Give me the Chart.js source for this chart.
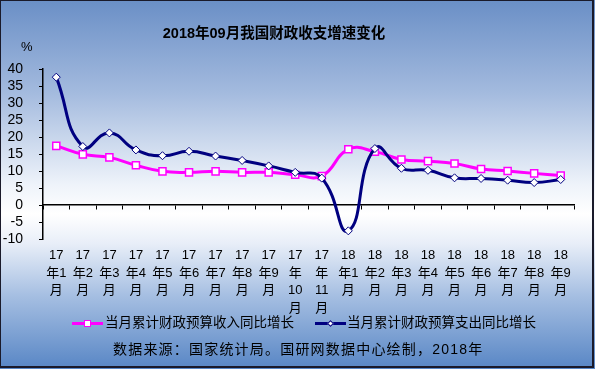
<!DOCTYPE html>
<html>
<head>
<meta charset="utf-8">
<script src="https://cdn.jsdelivr.net/npm/chart.js@4.4.1/dist/chart.umd.min.js"></script>
<style>
  html, body { margin: 0; padding: 0; }
  #wrap {
    position: relative;
    width: 595px; height: 369px; overflow: hidden;
    background: linear-gradient(to bottom, #6a8fc6 0%, #a3bade 25%, #eef3fa 50%, #ffffff 58%, #e8eef8 66%, #a6bfe2 80%, #5886c5 100%);
    font-family: "Liberation Sans", "Noto Sans CJK SC", sans-serif;
    color: #000;
  }
  #frame {
    position: absolute; left: 0; top: 0; width: 591px; height: 365px;
    border: 1px solid #1a1a2a; border-right-width: 2px; border-bottom-width: 2px;
    pointer-events: none;
  }
  canvas { position: absolute; left: 0; top: 0; }
  .txt { position: absolute; white-space: nowrap; }
  #title { left: 0; width: 548px; top: 21px; text-align: center; font-size: 14.5px; font-weight: bold; }
  #pct { left: 21px; top: 39px; font-size: 13px; }
  .leg { position: absolute; top: 315px; height: 16px; font-size: 13.5px; line-height: 16px; }
  .leg .ln { position: absolute; top: 7px; width: 31px; height: 3px; }
  .leg .mk { position: absolute; background: #fff; box-sizing: border-box; }
  .leg .lab { position: absolute; top: 0; white-space: nowrap; }
  #src { left: 113px; top: 338px; font-size: 14px; letter-spacing: 1.2px; }
</style>
</head>
<body>
<div id="wrap">
  <canvas id="graficoCanvas" width="595" height="369"></canvas>
  <div class="txt" id="title">2018年09月我国财政收支增速变化</div>
  <div class="txt" id="pct">%</div>
  <div class="leg" style="left:72px;">
    <div class="ln" style="left:0;background:#ff00ff;"></div>
    <div class="mk" style="left:12px;top:5px;width:7px;height:7px;border:1.5px solid #ff00ff;"></div>
    <div class="lab" style="left:33px;">当月累计财政预算收入同比增长</div>
  </div>
  <div class="leg" style="left:315px;">
    <div class="ln" style="left:0;background:#000080;"></div>
    <div class="mk" style="left:13px;top:6px;width:5px;height:5px;border:1px solid #000080;transform:rotate(45deg);"></div>
    <div class="lab" style="left:32px;">当月累计财政预算支出同比增长</div>
  </div>
  <div class="txt" id="src">数据来源：国家统计局。国研网数据中心绘制，2018年</div>
  <div id="frame"></div>
</div>
<script>
const categorias = [
    ['17', '年1', '月'], ['17', '年2', '月'], ['17', '年3', '月'], ['17', '年4', '月'],
    ['17', '年5', '月'], ['17', '年6', '月'], ['17', '年7', '月'], ['17', '年8', '月'],
    ['17', '年9', '月'], ['17', '年', '10', '月'], ['17', '年', '11', '月'],
    ['18', '年1', '月'], ['18', '年2', '月'], ['18', '年3', '月'], ['18', '年4', '月'],
    ['18', '年5', '月'], ['18', '年6', '月'], ['18', '年7', '月'], ['18', '年8', '月'],
    ['18', '年9', '月']
];
const receita = [17.4, 14.9, 14.0, 11.7, 9.9, 9.6, 9.9, 9.6, 9.6, 8.9, 8.5,
                 16.4, 15.7, 13.4, 12.9, 12.2, 10.6, 10.0, 9.3, 8.7];
const despesa = [37.6, 17.2, 21.2, 16.2, 14.5, 15.8, 14.4, 13.1, 11.5, 9.6, 7.9,
                 -7.6, 16.6, 10.8, 10.2, 8.0, 7.8, 7.3, 6.6, 7.5];
const yMin = -10, yMax = 40, yStep = 5;

const ctx = document.getElementById('graficoCanvas').getContext('2d');

new Chart(ctx, {
    type: 'line',
    data: {
        labels: categorias,
        datasets: [{
            label: '当月累计财政预算收入同比增长',
            data: receita,
            borderColor: '#ff00ff',
            borderWidth: 3,
            tension: 0.45,
            pointStyle: 'rect',
            pointRadius: 5,
            pointBackgroundColor: '#ffffff',
            pointBorderColor: '#ff00ff',
            pointBorderWidth: 1.5,
            order: 1
        }, {
            label: '当月累计财政预算支出同比增长',
            data: despesa,
            borderColor: '#000080',
            borderWidth: 3,
            tension: 0.5,
            pointStyle: 'rectRot',
            pointRadius: 4,
            pointBackgroundColor: '#ffffff',
            pointBorderColor: '#000080',
            pointBorderWidth: 1,
            order: 0
        }]
    },
    options: {
        responsive: false,
        animation: false,
        layout: { padding: { left: 0, right: 21, top: 69, bottom: 0 } },
        plugins: {
            legend: { display: false },
            title: { display: false },
            tooltip: { enabled: false }
        },
        scales: {
            x: {
                type: 'category',
                offset: true,
                grid: { display: false, drawTicks: false },
                border: { display: false },
                ticks: {
                    autoSkip: false,
                    maxRotation: 0,
                    minRotation: 0,
                    padding: 8,
                    color: '#000',
                    font: { family: '"Liberation Sans", "Noto Sans CJK SC"', size: 13, lineHeight: 1.35 }
                },
                afterFit: function (scale) { scale.height = 130; }
            },
            x2: {
                type: 'category',
                labels: categorias,
                offset: true,
                position: { y: 0 },
                ticks: { display: false },
                grid: { display: true, drawOnChartArea: false, drawTicks: true, tickLength: 4, color: '#000', offset: true, lineWidth: 1 },
                border: { display: true, color: '#000', width: 1.5 }
            },
            y: {
                min: yMin,
                max: yMax,
                ticks: {
                    stepSize: yStep,
                    autoSkip: false,
                    padding: 16,
                    color: '#000',
                    font: { family: '"Liberation Sans"', size: 14 }
                },
                grid: { display: true, drawOnChartArea: false, drawTicks: true, tickLength: 4, color: '#000', lineWidth: 1 },
                border: { display: true, color: '#000', width: 1.5 },
                afterFit: function (scale) { scale.width = 43; }
            }
        }
    }
});
</script>
</body>
</html>
